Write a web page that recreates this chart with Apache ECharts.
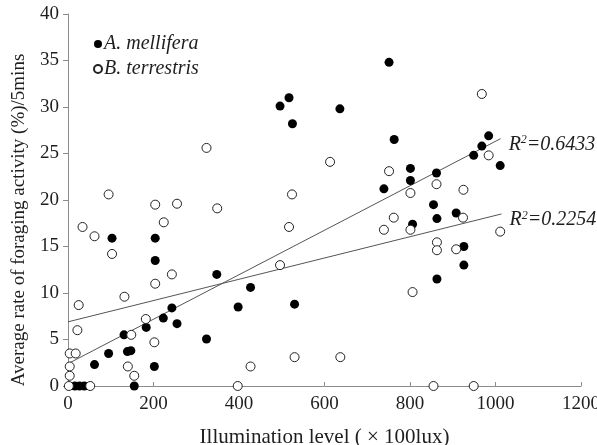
<!DOCTYPE html>
<html>
<head>
<meta charset="utf-8">
<script src="https://cdn.jsdelivr.net/npm/echarts@6/dist/echarts.min.js"></script>
<style>
    html, body { margin: 0; padding: 0; background: #fff; }
    #main { width: 597px; height: 445px; }
</style>
</head>
<body>
<div id="main"></div>
<script>
// A. mellifera (filled dots), [illumination, rate]
var melliferaPts = [
    [496, 30.1], [517, 31.0], [525, 28.2], [751, 34.8], [636, 29.8], [763, 26.5],
    [984, 26.9], [968, 25.8], [949, 24.8], [1011, 23.7], [801, 23.4], [862, 22.9],
    [801, 22.1], [739, 21.2], [855, 19.5], [806, 17.4], [863, 18.0], [908, 18.6],
    [926, 15.0], [926, 13.0], [863, 11.5], [103, 15.9], [204, 15.9], [204, 13.5],
    [348, 12.0], [427, 10.6], [398, 8.5], [530, 8.8], [243, 8.4], [255, 6.7],
    [223, 7.3], [183, 6.3], [131, 5.5], [324, 5.05], [95, 3.5], [139, 3.7],
    [147, 3.8], [62, 2.3], [202, 2.1], [155, 0], [16, 0], [27, 0], [38, 0]
];
// B. terrestris (open dots)
var terrestrisPts = [
    [324, 25.6], [95, 20.6], [524, 20.6], [613, 24.1], [968, 31.4], [984, 24.8],
    [751, 23.1], [862, 21.7], [801, 20.75], [925, 21.1], [762, 18.1], [924, 18.1],
    [739, 16.8], [801, 16.8], [1011, 16.6], [863, 15.45], [863, 14.6], [908, 14.7],
    [806, 10.1], [637, 3.1], [855, 0], [949, 0], [204, 19.5], [255, 19.6],
    [349, 19.1], [224, 17.6], [34, 17.1], [517, 17.1], [62, 16.1], [103, 14.2],
    [496, 13.0], [243, 12.0], [204, 11.0], [132, 9.6], [25, 8.7], [182, 7.2],
    [22, 6.0], [148, 5.5], [202, 4.7], [4, 3.5], [18, 3.5], [140, 2.1],
    [427, 2.1], [530, 3.1], [4, 2.1], [4, 1.1], [155, 1.1], [397, 0],
    [2, 0], [52, 0]
];
// fitted lines (end points)
var melliferaFit = [[0, 2.4], [1012, 26.6]];
var terrestrisFit = [[0, 6.9], [1014, 18.5]];
var melliferaR2 = '0.6433';
var terrestrisR2 = '0.2254';

var xTicks = { min: 0, max: 1200, interval: 200 };
var yTicks = { min: 0, max: 40, interval: 5 };

var serif = '"Liberation Serif", "DejaVu Serif", serif';
var axisGrey = '#8c8c8c';
var textCol = '#1e1e1e';

var r2Rich = {
    r: { fontFamily: serif, fontStyle: 'italic', fontSize: 20, color: textCol },
    s: { fontFamily: serif, fontStyle: 'italic', fontSize: 12, color: textCol, verticalAlign: 'top', padding: [0, 0, 9, 0] }
};

var plainNum = function (v) {
    return String(v);
};

var myChart = echarts.init(document.getElementById('main'), null, { renderer: 'canvas' });
var option = {
    animation: false,
    backgroundColor: '#fff',
    textStyle: { fontFamily: serif },
    grid: { left: 68, right: 16, top: 14, bottom: 59, containLabel: false, outerBoundsMode: 'none' },
    legend: {
        orient: 'vertical',
        left: 88,
        top: 29,
        itemGap: 5,
        itemWidth: 8,
        itemHeight: 8,
        textStyle: { fontFamily: serif, fontStyle: 'italic', fontSize: 20, color: textCol, padding: [0, 0, 0, -3] },
        data: [
            { name: 'A. mellifera', icon: 'circle' },
            { name: 'B. terrestris', icon: 'circle' }
        ]
    },
    xAxis: {
        type: 'value',
        min: xTicks.min,
        max: xTicks.max,
        interval: xTicks.interval,
        name: 'Illumination level ( × 100lux)',
        nameLocation: 'middle',
        nameGap: 41,
        nameTextStyle: { fontFamily: serif, fontSize: 21, color: textCol },
        axisLine: { lineStyle: { color: axisGrey, width: 1 } },
        axisTick: { inside: true, length: 4, lineStyle: { color: axisGrey } },
        axisLabel: { fontFamily: serif, fontSize: 19, color: textCol, margin: 9, formatter: plainNum },
        splitLine: { show: false }
    },
    yAxis: {
        type: 'value',
        min: yTicks.min,
        max: yTicks.max,
        interval: yTicks.interval,
        name: 'Average rate of foraging activity (%)/5mins',
        nameLocation: 'middle',
        nameGap: 39,
        nameTextStyle: { fontFamily: serif, fontSize: 19, color: textCol, padding: [0, 40, 0, 0] },
        axisLine: { show: true, lineStyle: { color: axisGrey, width: 1 } },
        axisTick: { show: true, length: 5, lineStyle: { color: axisGrey } },
        axisLabel: { fontFamily: serif, fontSize: 19, color: textCol, margin: 9, formatter: plainNum },
        splitLine: { show: false }
    },
    series: [
        {
            name: 'A. mellifera',
            type: 'scatter',
            symbol: 'circle',
            symbolSize: 9,
            itemStyle: { color: '#000', opacity: 1 },
            data: melliferaPts,
            z: 3
        },
        {
            name: 'B. terrestris',
            type: 'scatter',
            symbol: 'circle',
            symbolSize: 9,
            itemStyle: { color: '#fff', borderColor: '#222', borderWidth: 1, opacity: 1 },
            data: terrestrisPts,
            z: 3
        },
        {
            name: 'fitA',
            type: 'line',
            data: melliferaFit,
            symbol: 'none',
            silent: true,
            lineStyle: { color: '#555', width: 1 },
            endLabel: {
                show: true,
                distance: 8,
                offset: [0, 6],
                formatter: '{r|R}{s|2}{r|=' + melliferaR2 + '}',
                rich: r2Rich
            },
            z: 2
        },
        {
            name: 'fitB',
            type: 'line',
            data: terrestrisFit,
            symbol: 'none',
            silent: true,
            lineStyle: { color: '#555', width: 1 },
            endLabel: {
                show: true,
                distance: 8,
                offset: [0, 6],
                formatter: '{r|R}{s|2}{r|=' + terrestrisR2 + '}',
                rich: r2Rich
            },
            z: 2
        }
    ]
};
myChart.setOption(option);
</script>
</body>
</html>
